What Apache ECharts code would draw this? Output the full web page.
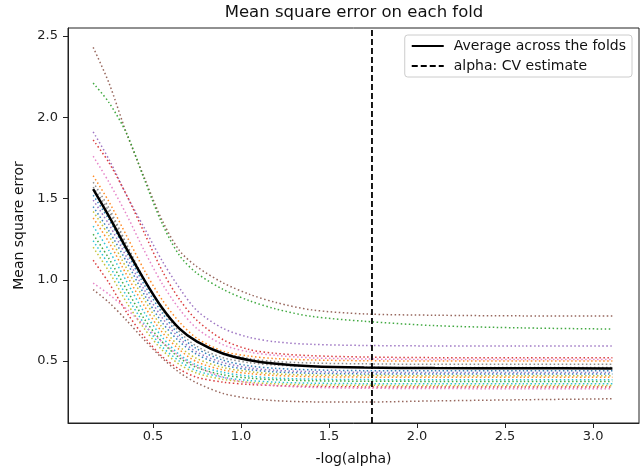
<!DOCTYPE html>
<html>
<head>
<meta charset="utf-8">
<script src="https://cdn.jsdelivr.net/npm/echarts@6/dist/echarts.min.js"></script>
<style>html,body{margin:0;padding:0;background:#fff}#chart{width:644px;height:471px}</style>
</head>
<body>
<div id="chart"></div>
<script>
// -log(alpha) sample positions
const negLogAlpha = [0.16, 0.25, 0.35, 0.45, 0.55, 0.65, 0.75, 0.9, 1.05, 1.2, 1.4, 1.7, 2.1, 2.6, 3.11];

// Mean square error on each fold (20 folds)
const fold01 = [2.43, 2.21, 1.90, 1.63, 1.37, 1.18, 1.08, 0.98, 0.91, 0.86, 0.815, 0.79, 0.782, 0.778, 0.777];
const fold02 = [2.21, 2.09, 1.90, 1.62, 1.35, 1.15, 1.04, 0.94, 0.87, 0.82, 0.775, 0.745, 0.718, 0.704, 0.697];
const fold03 = [1.91, 1.74, 1.52, 1.32, 1.12, 0.95, 0.81, 0.70, 0.645, 0.618, 0.603, 0.596, 0.593, 0.592, 0.592];
const fold04 = [1.86, 1.72, 1.52, 1.29, 1.06, 0.88, 0.75, 0.63, 0.57, 0.547, 0.533, 0.525, 0.521, 0.52, 0.52];
const fold05 = [1.76, 1.60, 1.40, 1.18, 0.98, 0.82, 0.70, 0.60, 0.555, 0.535, 0.52, 0.513, 0.51, 0.51, 0.51];
const fold06 = [1.64, 1.48, 1.27, 1.06, 0.88, 0.74, 0.64, 0.56, 0.53, 0.515, 0.507, 0.502, 0.50, 0.50, 0.50];
const fold07 = [1.60, 1.44, 1.22, 1.00, 0.82, 0.68, 0.59, 0.52, 0.49, 0.475, 0.467, 0.462, 0.46, 0.46, 0.46];
const fold08 = [1.52, 1.37, 1.17, 0.97, 0.80, 0.66, 0.575, 0.505, 0.47, 0.455, 0.446, 0.441, 0.44, 0.44, 0.44];
const fold09 = [1.49, 1.34, 1.14, 0.94, 0.77, 0.64, 0.555, 0.49, 0.458, 0.443, 0.435, 0.431, 0.43, 0.43, 0.43];
const fold10 = [1.45, 1.30, 1.11, 0.91, 0.74, 0.62, 0.54, 0.475, 0.447, 0.433, 0.425, 0.421, 0.42, 0.42, 0.42];
const fold11 = [1.42, 1.27, 1.07, 0.88, 0.71, 0.59, 0.515, 0.46, 0.435, 0.421, 0.414, 0.411, 0.41, 0.41, 0.41];
const fold12 = [1.38, 1.23, 1.03, 0.84, 0.68, 0.57, 0.495, 0.445, 0.423, 0.411, 0.404, 0.401, 0.40, 0.40, 0.40];
const fold13 = [1.33, 1.18, 0.99, 0.80, 0.65, 0.54, 0.475, 0.43, 0.407, 0.395, 0.389, 0.386, 0.385, 0.385, 0.385];
const fold14 = [1.28, 1.13, 0.94, 0.76, 0.62, 0.52, 0.46, 0.415, 0.395, 0.385, 0.379, 0.376, 0.375, 0.375, 0.375];
const fold15 = [1.24, 1.09, 0.90, 0.73, 0.59, 0.50, 0.44, 0.40, 0.38, 0.37, 0.364, 0.361, 0.36, 0.36, 0.36];
const fold16 = [1.20, 1.05, 0.86, 0.70, 0.57, 0.48, 0.425, 0.387, 0.369, 0.36, 0.354, 0.351, 0.35, 0.35, 0.35];
const fold17 = [1.12, 0.98, 0.80, 0.65, 0.53, 0.45, 0.40, 0.37, 0.356, 0.349, 0.344, 0.341, 0.34, 0.34, 0.34];
const fold18 = [1.57, 1.42, 1.21, 1.00, 0.83, 0.70, 0.62, 0.55, 0.515, 0.497, 0.488, 0.483, 0.48, 0.48, 0.48];
const fold19 = [0.98, 0.91, 0.82, 0.72, 0.62, 0.53, 0.465, 0.40, 0.365, 0.348, 0.338, 0.333, 0.331, 0.33, 0.33];
const fold20 = [0.94, 0.86, 0.75, 0.63, 0.52, 0.43, 0.365, 0.30, 0.27, 0.256, 0.249, 0.248, 0.255, 0.262, 0.268];

// Average across the folds
const meanMSE = [1.558, 1.39, 1.19, 1.00, 0.83, 0.70, 0.62, 0.545, 0.505, 0.483, 0.468, 0.46, 0.457, 0.456, 0.455];

// Selected alpha (CV estimate), as -log(alpha)
const alphaCV = 1.744;

const folds = [fold01, fold02, fold03, fold04, fold05, fold06, fold07, fold08, fold09, fold10,
               fold11, fold12, fold13, fold14, fold15, fold16, fold17, fold18, fold19, fold20];
const foldColors = ['#8c564b', '#2ca02c', '#9467bd', '#d62728', '#e377c2', '#ff7f0e', '#7f7f7f', '#1f77b4', '#9467bd', '#1f77b4',
                    '#bcbd22', '#ff7f0e', '#17becf', '#2ca02c', '#17becf', '#bcbd22', '#d62728', '#7f7f7f', '#e377c2', '#8c564b'];

const X_MIN = 0.017, X_MAX = 3.261, Y_MIN = 0.119, Y_MAX = 2.549;
const FONT = 'DejaVu Sans';

const pairs = (ys) => negLogAlpha.map((x, i) => [x, ys[i]]);

const series = folds.map((f, i) => ({
  name: 'fold ' + (i + 1),
  type: 'line',
  data: pairs(f),
  symbol: 'none',
  smooth: 0.3,
  silent: true,
  lineStyle: { color: foldColors[i], width: 1.5, type: [1.5, 2.5], opacity: 0.9 },
  z: 2
}));

series.push({
  name: 'Average across the folds',
  type: 'line',
  data: pairs(meanMSE),
  symbol: 'none',
  smooth: 0.3,
  itemStyle: { color: '#000' },
  lineStyle: { color: '#000', width: 2.5 },
  z: 4
});

series.push({
  name: 'alpha: CV estimate',
  type: 'line',
  data: [[alphaCV, Y_MIN], [alphaCV, Y_MAX]],
  symbol: 'none',
  itemStyle: { color: '#000' },
  lineStyle: { color: '#000', width: 1.8, type: [6, 3] },
  z: 5
});

const chart = echarts.init(document.getElementById('chart'), null, { renderer: 'canvas' });
chart.setOption({
  animation: false,
  backgroundColor: '#fff',
  title: {
    text: 'Mean square error on each fold',
    left: 354,
    textAlign: 'center',
    top: 4,
    padding: 0,
    textStyle: { fontFamily: FONT, fontSize: 16.5, fontWeight: 'normal', color: '#111' }
  },
  grid: { left: 68, right: 5, top: 28, bottom: 48, show: true, borderColor: '#222', borderWidth: 1, containLabel: false },
  legend: {
    data: ['Average across the folds', 'alpha: CV estimate'],
    orient: 'vertical',
    right: 12,
    top: 35,
    itemWidth: 32,
    itemHeight: 14,
    itemGap: 6,
    padding: [4, 6, 4, 6],
    backgroundColor: '#fff',
    borderColor: '#ccc',
    borderWidth: 1,
    borderRadius: 3,
    itemStyle: { opacity: 0 },
    textStyle: { fontFamily: FONT, fontSize: 14, color: '#111', padding: [0, 0, 0, 5] }
  },
  xAxis: {
    type: 'value',
    min: X_MIN,
    max: X_MAX,
    splitLine: { show: false },
    axisLine: { onZero: false, lineStyle: { color: '#222', width: 1 } },
    axisTick: { length: 5, lineStyle: { color: '#222' } },
    axisLabel: { fontFamily: FONT, fontSize: 13, color: '#222', margin: 7, showMinLabel: false, showMaxLabel: false,
                 formatter: v => v.toFixed(1) },
    name: '-log(alpha)',
    nameLocation: 'middle',
    nameGap: 29,
    nameTextStyle: { fontFamily: FONT, fontSize: 14, color: '#111' }
  },
  yAxis: {
    type: 'value',
    min: Y_MIN,
    max: Y_MAX,
    splitLine: { show: false },
    axisLine: { show: true, onZero: false, lineStyle: { color: '#222', width: 1 } },
    axisTick: { show: true, length: 5, lineStyle: { color: '#222' } },
    axisLabel: { fontFamily: FONT, fontSize: 13, color: '#222', margin: 10, showMinLabel: false, showMaxLabel: false,
                 formatter: v => v.toFixed(1) },
    name: 'Mean square error',
    nameLocation: 'middle',
    nameGap: 35,
    nameTextStyle: { fontFamily: FONT, fontSize: 14, color: '#111' }
  },
  series: series
});
</script>
</body>
</html>
